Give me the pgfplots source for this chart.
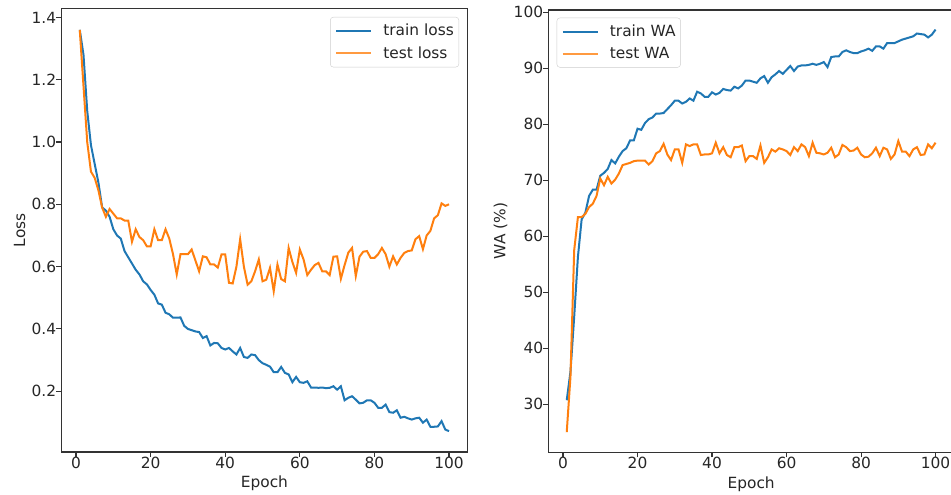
\documentclass[border=0pt]{standalone}
\usepackage{pgfplots}
\pgfplotsset{compat=1.18}
\usepackage{pgfplotstable}
\usepackage{fontspec}
\setmainfont{DejaVu Sans}
\definecolor{tabblue}{HTML}{1F77B4}
\definecolor{taborange}{HTML}{FF7F0E}
\definecolor{paleorange}{HTML}{FF9A40}
\newcommand{\mpl}{\fontsize{15.4pt}{18pt}\selectfont}

\pgfplotstableread{
epoch trainloss testloss trainwa testwa
1 1.36 1.36 30.7 25.0
2 1.28 1.18 35.8 34.9
3 1.10 1.00 45.6 57.5
4 0.99 0.905 56.3 63.4
5 0.93 0.885 63.0 63.4
6 0.87 0.845 64.2 64.0
7 0.79 0.79 67.2 65.2
8 0.78 0.76 68.3 65.8
9 0.76 0.785 68.3 67.2
10 0.72 0.77 70.8 70.3
11 0.70 0.755 71.3 69.1
12 0.69 0.755 72.0 70.6
13 0.65 0.748 73.6 69.4
14 0.63 0.748 73.0 70.1
15 0.61 0.68 74.2 71.2
16 0.59 0.72 75.2 72.7
17 0.575 0.695 75.7 72.9
18 0.553 0.685 77.1 73.1
19 0.543 0.665 77.1 73.4
20 0.525 0.665 79.2 73.5
21 0.51 0.72 79.0 73.5
22 0.482 0.685 80.2 73.5
23 0.478 0.685 80.9 72.8
24 0.452 0.72 81.2 73.4
25 0.447 0.69 81.9 74.8
26 0.436 0.64 81.9 75.2
27 0.436 0.575 82.0 76.5
28 0.437 0.64 82.7 74.6
29 0.41 0.64 83.4 73.6
30 0.40 0.64 84.2 75.5
31 0.396 0.655 84.2 75.5
32 0.392 0.62 83.7 73.1
33 0.39 0.585 84.0 76.4
34 0.371 0.633 84.6 76.1
35 0.377 0.63 84.2 76.4
36 0.347 0.607 85.8 76.4
37 0.355 0.607 85.5 74.5
38 0.354 0.597 84.9 74.6
39 0.339 0.639 84.9 74.6
40 0.334 0.639 85.7 74.8
41 0.339 0.548 85.3 76.7
42 0.328 0.546 85.6 74.8
43 0.318 0.60 86.3 75.9
44 0.339 0.688 86.1 74.5
45 0.31 0.60 86.0 74.1
46 0.307 0.542 86.7 75.9
47 0.318 0.553 86.4 75.9
48 0.316 0.585 86.9 76.2
49 0.30 0.623 87.8 73.4
50 0.29 0.553 87.8 74.3
51 0.285 0.558 87.6 74.3
52 0.279 0.596 87.4 73.8
53 0.261 0.521 88.2 76.2
54 0.261 0.607 88.6 73.1
55 0.278 0.56 87.4 74.1
56 0.259 0.553 88.4 75.5
57 0.254 0.66 88.9 75.1
58 0.229 0.615 89.5 75.7
59 0.246 0.58 89.0 75.5
60 0.229 0.655 89.7 75.2
61 0.227 0.623 90.4 74.5
62 0.232 0.573 89.5 75.9
63 0.212 0.59 90.3 75.2
64 0.212 0.605 90.5 76.4
65 0.211 0.612 90.5 75.9
66 0.212 0.585 90.6 74.3
67 0.21 0.585 90.8 76.7
68 0.211 0.573 90.6 74.9
69 0.216 0.632 90.8 74.8
70 0.205 0.633 91.1 74.6
71 0.216 0.561 90.2 74.9
72 0.171 0.605 92.0 75.8
73 0.179 0.645 92.1 74.1
74 0.184 0.66 92.1 74.6
75 0.173 0.57 92.9 76.3
76 0.161 0.632 93.2 75.9
77 0.163 0.648 92.9 75.2
78 0.171 0.65 92.7 75.3
79 0.171 0.628 92.7 75.8
80 0.163 0.628 93.0 74.6
81 0.147 0.64 93.2 74.1
82 0.147 0.66 93.5 74.2
83 0.157 0.64 93.1 74.8
84 0.133 0.60 93.9 75.8
85 0.131 0.633 93.9 74.3
86 0.139 0.607 93.5 75.8
87 0.115 0.628 94.5 75.5
88 0.118 0.644 94.5 73.8
89 0.113 0.65 94.5 74.6
90 0.109 0.652 94.8 77.0
91 0.113 0.688 95.1 75.1
92 0.115 0.698 95.3 75.1
93 0.099 0.656 95.5 74.3
94 0.109 0.70 95.7 75.5
95 0.086 0.715 96.2 75.9
96 0.086 0.755 96.1 74.5
97 0.087 0.765 96.0 74.6
98 0.104 0.803 95.5 76.4
99 0.077 0.795 96.0 75.7
100 0.072 0.80 96.9 76.7
}\datatable

\pgfplotsset{
  myaxis/.style={
    scale only axis,
    anchor=south west,
    axis line style={black!80, line width=1.1pt},
    tick align=outside,
    xtick pos=bottom, ytick pos=left,
    major tick length=5pt,
    tick style={black!80, line width=1.1pt},
    xmin=-3.95, xmax=104.95,
    xtick={0,20,40,60,80,100},
    xticklabels={0,20,40,60,80,100},
    tick label style={font=\mpl, text=black!85, inner sep=0pt},
    xlabel={Epoch},
    every axis x label/.style={at={(ticklabel cs:0.5,7pt)}, anchor=north, font=\mpl, text=black!85, inner sep=0pt},
    every axis y label/.style={at={(ticklabel cs:0.5,6pt)}, rotate=90, anchor=south, font=\mpl, text=black!85, inner sep=0pt},
    legend style={font=\mpl, text=black!85, draw=black!20, rounded corners=3pt, fill=white,
      inner xsep=5pt, inner ysep=7pt, nodes={inner sep=0pt}, row sep=9.5pt,
      /tikz/every odd column/.append style={column sep=11pt}},
    legend cell align=left,
    legend image code/.code={\draw[##1] (0pt,0pt) -- (35pt,0pt);},
    /pgf/number format/assume math mode=true,
  }
}

\begin{document}
\begin{tikzpicture}
\useasboundingbox (0,0) rectangle (951pt,495pt);
\clip (0,0) rectangle (951pt,495pt);
\begin{axis}[myaxis,
  at={(61.3pt,43pt)}, width=406.2pt, height=443.3pt,
  ymin=0.005, ymax=1.428,
  ytick={0.2,0.4,0.6,0.8,1.0,1.2,1.4},
  yticklabels={0.2,0.4,0.6,0.8,1.0,1.2,1.4},
  ylabel={Loss},
  legend style={at={(1,1)}, anchor=north east, xshift=-8.5pt, yshift=-8.3pt},
]
\addplot[tabblue, line width=2pt] table[x=epoch, y=trainloss] {\datatable};
\addlegendentry{train loss}
\addplot[taborange, line width=2pt, legend image post style={paleorange, line width=2pt}] table[x=epoch, y=testloss] {\datatable};
\addlegendentry{test loss}
\end{axis}
\begin{axis}[myaxis,
  at={(548.3pt,42.7pt)}, width=405.7pt, height=442.3pt,
  ymin=21.4, ymax=100.4,
  ytick={30,40,50,60,70,80,90,100},
  yticklabels={30,40,50,60,70,80,90,100},
  ylabel={WA (\%)},
  legend style={at={(0,1)}, anchor=north west, xshift=8.4pt, yshift=-7.7pt},
]
\addplot[tabblue, line width=2pt] table[x=epoch, y=trainwa] {\datatable};
\addlegendentry{train WA}
\addplot[taborange, line width=2pt, legend image post style={paleorange, line width=2pt}] table[x=epoch, y=testwa] {\datatable};
\addlegendentry{test WA}
\end{axis}
\end{tikzpicture}
\end{document}
